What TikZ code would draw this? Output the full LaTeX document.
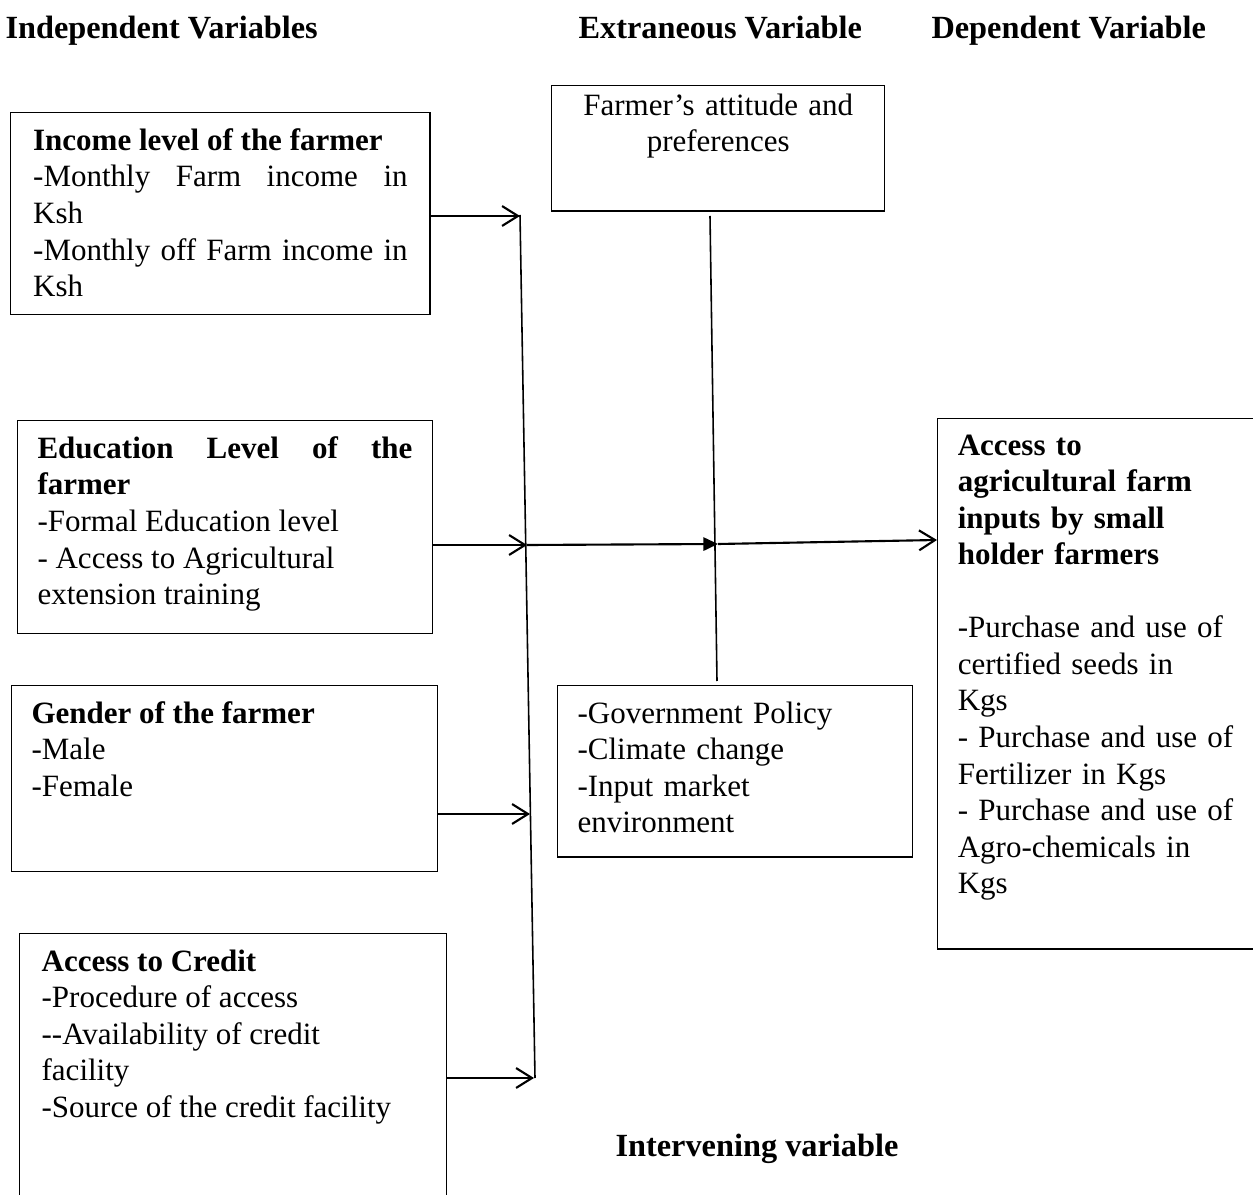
\documentclass[tikz,border=0pt]{standalone}
\usepackage{fontspec}
\setmainfont{Liberation Serif}
\usetikzlibrary{arrows.meta}
\tikzstyle{varbox} = [draw, line width=0.5pt, anchor=north west, inner xsep=7.5pt, inner ysep=6pt, align=justify, font=\fontsize{11.7}{13.8}\selectfont]
\tikzstyle{heading} = [anchor=base west, inner sep=0pt, font=\bfseries\fontsize{12.2}{13.8}\selectfont]
\tikzstyle{link} = [line width=0.8pt, -{Straight Barb[length=6pt,width=7.5pt]}]
\tikzstyle{bar} = [line width=0.6pt]

\begin{document}
\begin{tikzpicture}[x=0.3774pt, y=-0.3774pt]
\useasboundingbox (0,0) rectangle (1253,1195);

% headings
\node[heading] (indep) at (5,39) {Independent Variables};
\node[heading] (extra) at (578,39) {Extraneous Variable};
\node[heading] (depend) at (931,39) {Dependent Variable};
\node[heading] (interv) at (615,1156) {Intervening variable};

% independent variables
\node[varbox, inner xsep=8.5pt, text width=141.3pt, text depth=55.9pt] (income) at (10,112)
  {\textbf{Income level of the farmer}\\
   -Monthly Farm income in\linebreak Ksh\\
   -Monthly off Farm income in\linebreak Ksh};
\node[varbox, text width=141.5pt, text depth=60pt] (edu) at (17,420)
  {\textbf{Education Level of the\linebreak farmer}\\
   -Formal Education level\\
   - Access to Agricultural\\
   extension training};
\node[varbox, text width=145.8pt, text depth=49.9pt] (gender) at (11,685)
  {\textbf{Gender of the farmer}\\
   -Male\\
   -Female};
\node[varbox, inner xsep=8.3pt, text width=144.5pt, text depth=80pt] (credit) at (19,933)
  {\textbf{Access to Credit}\\
   -Procedure of access\\
   -{}-Availability of credit\\
   facility\\
   -Source of the credit facility};

% extraneous and intervening
\node[varbox, inner ysep=3pt, text width=110.7pt, align=center, text depth=33.2pt] (attitude) at (551,85)
  {Farmer’s attitude and\\ preferences};
\node[varbox, text width=119pt, align=left, text depth=44.6pt] (policy) at (557,685)
  {-Government Policy\\
   -Climate change\\
   -Input market\\
   environment};

% dependent variable
\node[varbox, inner xsep=7.6pt, text width=104pt, align=left, text depth=180.4pt] (access) at (937,418)
  {\textbf{Access to}\\
   \textbf{agricultural farm}\\
   \textbf{inputs by small}\\
   \textbf{holder farmers}\\[13.8pt]
   -Purchase and use of\\
   certified seeds in\\
   Kgs\\
   - Purchase and use of\\
   Fertilizer in Kgs\\
   - Purchase and use of\\
   Agro-chemicals in\\
   Kgs};

% connectors
\coordinate (colTop) at (520,215);
\coordinate (colBot) at (535,1078);
\coordinate (incIn) at (520,216);
\coordinate (eduIn) at (527,545);
\coordinate (genIn) at (530,814);
\coordinate (creIn) at (534,1078);
\coordinate (mid) at (718,544);
\coordinate (extTop) at (710,216);
\coordinate (extBot) at (717,681);
\coordinate (accIn) at (access.west |- 0,540);

\draw[bar] (colTop) -- (colBot);
\draw[bar] (extTop) -- (extBot);

\path
(income.east |- incIn) edge [link] (incIn)
(edu.east |- eduIn) edge [link] (eduIn)
(gender.east |- genIn) edge [link] (genIn)
(credit.east |- creIn) edge [link] (creIn)
(eduIn) edge [line width=0.8pt, -{Triangle[length=5.5pt,width=5pt]}] (mid)
(mid) edge [link] (accIn);
\end{tikzpicture}
\end{document}
